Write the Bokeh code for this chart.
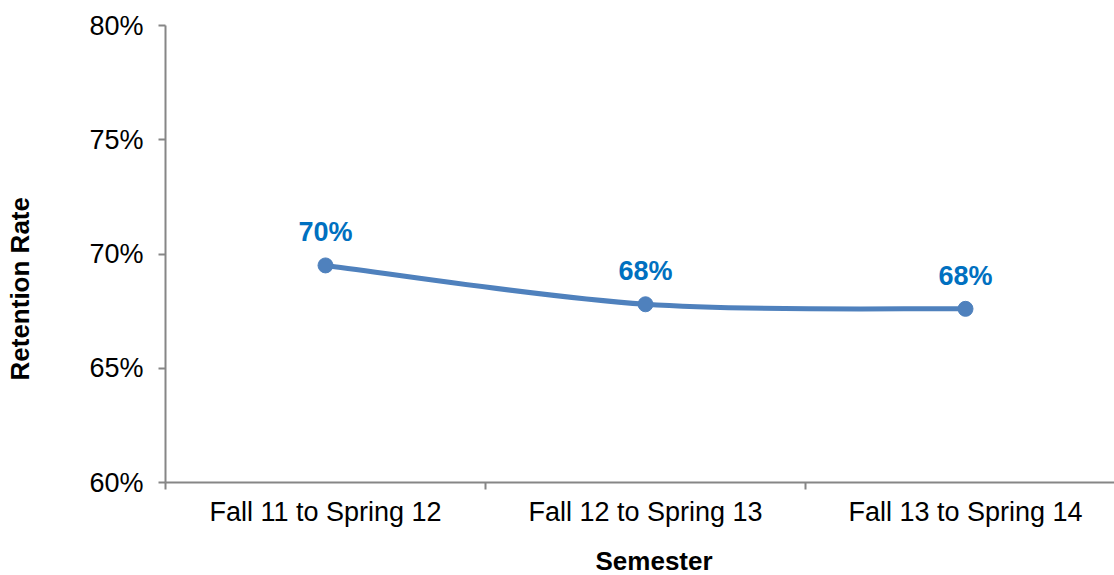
from bokeh.plotting import figure
from bokeh.models import FixedTicker, NumeralTickFormatter, Range1d, Title, ColumnDataSource
from bokeh.core.properties import value
from bokeh.embed import file_html
from bokeh.resources import INLINE

categories = ["Fall 11 to Spring 12", "Fall 12 to Spring 13", "Fall 13 to Spring 14"]
retention = [0.695, 0.678, 0.676]
labels = ["70%", "68%", "68%"]
y_ticks = [0.60, 0.65, 0.70, 0.75, 0.80]

FONT = "Liberation Sans"
LINE = "#4F81BD"
LBL = "#0070C0"
AX = "#868686"
FS = "27px"
TFS = "26px"

W, H = 1114, 575
LEFT, TOP, BOTTOM = 165, 25, 91
CAT_W = 320

xs = [i + 0.5 for i in range(len(categories))]

p = figure(width=W, height=H, output_backend="svg", toolbar_location=None,
           x_range=Range1d(0, (W - LEFT) / CAT_W), y_range=Range1d(0.60, 0.80),
           min_border_left=LEFT, min_border_right=0, min_border_top=TOP, min_border_bottom=BOTTOM)
p.outline_line_color = None
p.xgrid.visible = False
p.ygrid.visible = False
p.background_fill_color = "white"
p.border_fill_color = "white"

# y axis
ya = p.yaxis[0]
ya.ticker = FixedTicker(ticks=y_ticks, minor_ticks=[])
ya.formatter = NumeralTickFormatter(format="0%")
ya.axis_line_color = AX
ya.axis_line_width = 2
ya.major_tick_line_color = AX
ya.major_tick_line_width = 2
ya.major_tick_out = 7
ya.major_tick_in = 0
ya.minor_tick_line_color = None
ya.major_label_standoff = 15
ya.major_label_text_font = FONT
ya.major_label_text_font_size = FS
ya.major_label_text_color = "black"
ya.axis_label = " "
ya.axis_label_text_font_size = "1px"
ya.axis_label_standoff = 48

# x axis
xa = p.xaxis[0]
xa.ticker = FixedTicker(ticks=xs, minor_ticks=list(range(len(categories) + 1)))
xa.major_label_overrides = {x: c for x, c in zip(xs, categories)}
xa.axis_line_color = AX
xa.axis_line_width = 2
xa.major_tick_line_color = None
xa.major_tick_out = 7
xa.major_tick_in = 0
xa.minor_tick_line_color = AX
xa.minor_tick_line_width = 2
xa.minor_tick_out = 7
xa.minor_tick_in = 0
xa.major_label_standoff = 7
xa.major_label_text_font = FONT
xa.major_label_text_font_size = FS
xa.major_label_text_color = "black"
xa.axis_label = " "
xa.axis_label_text_font_size = "1px"
xa.axis_label_standoff = 10

# smoothed line (Catmull-Rom bezier from the data points)
n = len(xs)
x0, y0, x1, y1, cx0, cy0, cx1, cy1 = [], [], [], [], [], [], [], []
for i in range(n - 1):
    pm = (xs[max(i - 1, 0)], retention[max(i - 1, 0)])
    p0 = (xs[i], retention[i])
    p1 = (xs[i + 1], retention[i + 1])
    p2 = (xs[min(i + 2, n - 1)], retention[min(i + 2, n - 1)])
    x0.append(p0[0]); y0.append(p0[1]); x1.append(p1[0]); y1.append(p1[1])
    cx0.append(p0[0] + (p1[0] - pm[0]) / 6); cy0.append(p0[1] + (p1[1] - pm[1]) / 6)
    cx1.append(p1[0] - (p2[0] - p0[0]) / 6); cy1.append(p1[1] - (p2[1] - p0[1]) / 6)
p.bezier(x0=x0, y0=y0, x1=x1, y1=y1, cx0=cx0, cy0=cy0, cx1=cx1, cy1=cy1,
         line_color=LINE, line_width=5)

src = ColumnDataSource(dict(x=xs, y=retention, t=labels))
p.scatter("x", "y", source=src, size=15, fill_color=LINE, line_color=LINE)
p.text("x", "y", text="t", source=src, y_offset=-33, text_align="center", text_baseline="middle",
       text_font=value(FONT), text_font_size=FS, text_font_style="bold", text_color=LBL)

# axis titles
p.add_layout(Title(text="Retention Rate", align="left", offset=102, standoff=0,
                   text_font=FONT, text_font_size=TFS, text_font_style="bold",
                   text_color="black"), "left")
p.add_layout(Title(text="Semester", align="left", offset=430, standoff=0,
                   text_font=FONT, text_font_size=TFS, text_font_style="bold",
                   text_color="black"), "below")

open("out.html", "w").write(file_html(p, INLINE))
